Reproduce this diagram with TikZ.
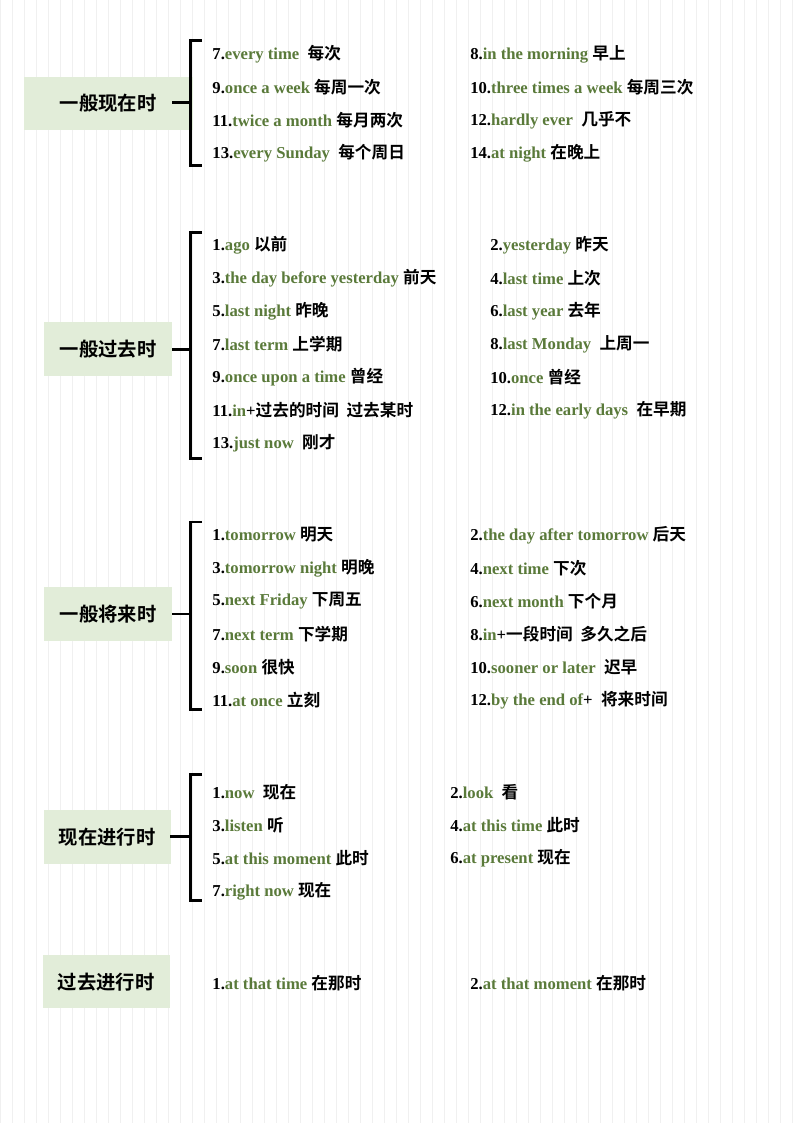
\documentclass[tikz,border=0pt]{standalone}
\usepackage{fontspec}
\setmainfont{Liberation Serif}
\newfontfamily\cjk{Noto Sans CJK SC}[BoldFont={* Bold}]
\definecolor{gr}{HTML}{5A7A3A}
\definecolor{boxg}{HTML}{E2EDD9}
\definecolor{grid}{HTML}{F0F0F0}
\begin{document}
\begin{tikzpicture}[x=0.75pt,y=-0.75pt,
  lab/.style={fill=boxg,font=\cjk\bfseries\fontsize{14.5}{16}\selectfont,inner sep=0pt,anchor=center},
  it/.style={anchor=west,inner sep=0pt,font=\bfseries\fontsize{12.5}{14}\selectfont},
  brk/.style={line width=2.2pt}]
\fill[white] (0,0) rectangle (794,1123);
\draw[grid,line width=0.4pt] (0,0) grid[step=12] (794,1123);
\useasboundingbox (0,0) rectangle (794,1123);
\newcommand\zh[1]{{\cjk\bfseries #1}}
\newcommand\en[1]{\textcolor{gr}{#1}}
% section 1
\node[lab,minimum width=127pt*0.75/0.75*0.75/0.75,minimum height=40pt] (s1) at (108,103) {一般现在时};
\draw[brk] (s1.east)++(0,0) coordinate (c1);
\draw[brk] (172,102) -- (190,102) (202,40) -- (190,40) -- (190,165) -- (202,165);
\foreach \y/\a/\b in {54/{7.\en{every time}\ \ \zh{每次}}/{8.\en{in the morning} \zh{早上}},
  87/{9.\en{once a week} \zh{每周一次}}/{10.\en{three times a week} \zh{每周三次}},
  120/{11.\en{twice a month} \zh{每月两次}}/{12.\en{hardly ever}\ \ \zh{几乎不}},
  153/{13.\en{every Sunday}\ \ \zh{每个周日}}/{14.\en{at night} \zh{在晚上}}}
  {\node[it] (a\y) at (212,\y) {\a}; \node[it] (b\y) at (470,\y) {\b};}
% section 2
\node[lab,minimum width=96pt,minimum height=40pt] (s2) at (108,349) {一般过去时};
\draw[brk] (172,349) -- (190,349) (202,232) -- (190,232) -- (190,458) -- (202,458);
\foreach \y/\a/\b in {245/{1.\en{ago} \zh{以前}}/{2.\en{yesterday} \zh{昨天}},
  278/{3.\en{the day before yesterday} \zh{前天}}/{4.\en{last time} \zh{上次}},
  311/{5.\en{last night} \zh{昨晚}}/{6.\en{last year} \zh{去年}},
  344/{7.\en{last term} \zh{上学期}}/{8.\en{last Monday}\ \ \zh{上周一}},
  377/{9.\en{once upon a time} \zh{曾经}}/{10.\en{once} \zh{曾经}},
  410/{11.\en{in}+\zh{过去的时间\ \ 过去某时}}/{12.\en{in the early days}\ \ \zh{在早期}}}
  {\node[it] (c\y) at (212,\y) {\a}; \node[it] (d\y) at (490,\y) {\b};}
\node[it] (c443) at (212,443) {13.\en{just now}\ \ \zh{刚才}};
% section 3
\node[lab,minimum width=96pt,minimum height=40pt] (s3) at (108,614) {一般将来时};
\draw[brk] (172,614) -- (190,614) (202,522) -- (190,522) -- (190,710) -- (202,710);
\foreach \y/\a/\b in {535/{1.\en{tomorrow} \zh{明天}}/{2.\en{the day after tomorrow} \zh{后天}},
  568/{3.\en{tomorrow night} \zh{明晚}}/{4.\en{next time} \zh{下次}},
  601/{5.\en{next Friday} \zh{下周五}}/{6.\en{next month} \zh{下个月}},
  634/{7.\en{next term} \zh{下学期}}/{8.\en{in}+\zh{一段时间\ \ 多久之后}},
  667/{9.\en{soon} \zh{很快}}/{10.\en{sooner or later}\ \ \zh{迟早}},
  700/{11.\en{at once} \zh{立刻}}/{12.\en{by the end of}+\ \ \zh{将来时间}}}
  {\node[it] (e\y) at (212,\y) {\a}; \node[it] (f\y) at (470,\y) {\b};}
% section 4
\node[lab,minimum width=95pt,minimum height=40pt] (s4) at (107,837) {现在进行时};
\draw[brk] (170,837) -- (190,837) (202,775) -- (190,775) -- (190,901) -- (202,901);
\foreach \y/\a/\b in {792/{1.\en{now}\ \ \zh{现在}}/{2.\en{look}\ \ \zh{看}},
  825/{3.\en{listen} \zh{听}}/{4.\en{at this time} \zh{此时}},
  858/{5.\en{at this moment} \zh{此时}}/{6.\en{at present} \zh{现在}}}
  {\node[it] (g\y) at (212,\y) {\a}; \node[it] (h\y) at (450,\y) {\b};}
\node[it] (g891) at (212,891) {7.\en{right now} \zh{现在}};
% section 5
\node[lab,minimum width=95pt,minimum height=40pt] (s5) at (106,982) {过去进行时};
\node[it] (i1) at (212,983) {1.\en{at that time} \zh{在那时}};
\node[it] (i2) at (470,983) {2.\en{at that moment} \zh{在那时}};
\end{tikzpicture}
\end{document}
